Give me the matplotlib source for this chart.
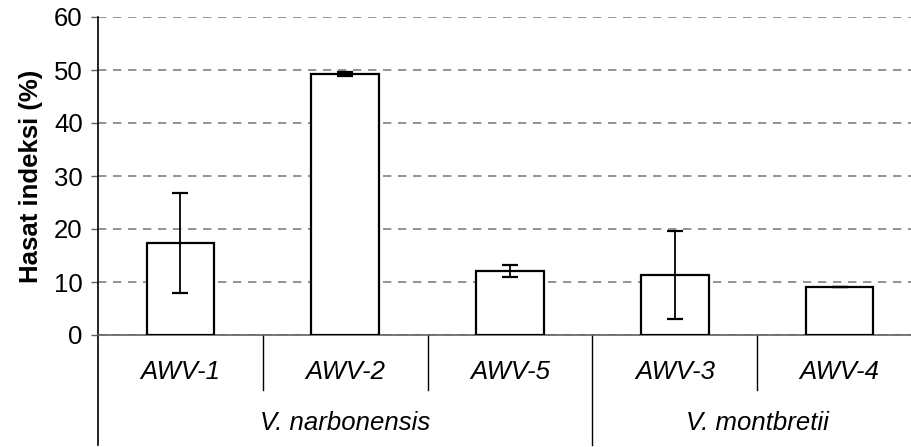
import matplotlib.pyplot as plt
import matplotlib.transforms as mtransforms

# Hasat indeksi verileri
hatlar = ["AWV-1", "AWV-2", "AWV-5", "AWV-3", "AWV-4"]
ortalama = [17.4, 49.2, 12.1, 11.3, 9.1]
hata = [9.4, 0.4, 1.15, 8.3, 0.0]
turler = ["V. narbonensis", "V. montbretii"]
tur_sayisi = [3, 2]

plt.rcParams["font.family"] = ["Liberation Sans", "DejaVu Sans"]

fig = plt.figure(figsize=(9.12, 4.47), dpi=100)
ax = fig.add_axes([98 / 912, 1 - 335 / 447, (922 - 98) / 912, 318 / 447])

x = list(range(len(hatlar)))
ax.bar(x, ortalama, width=0.41, color="white", edgecolor="black", linewidth=1.6, zorder=3)
ax.errorbar(x, ortalama, yerr=hata, fmt="none", ecolor="black", elinewidth=1.3,
            capsize=6, capthick=1.6, zorder=4)

ax.set_xlim(-0.5, 4.5)
ax.set_ylim(0, 60)
ax.set_yticks(range(0, 61, 10))
ax.tick_params(axis="y", labelsize=18.5, length=5, width=1, color="#606060", pad=6)
ax.set_xticks([])
ax.yaxis.grid(True, linestyle=(0, (5, 4)), color="#808080", linewidth=1.2)
ax.set_axisbelow(True)
for s in ["top", "right", "left"]:
    ax.spines[s].set_visible(False)
ax.spines["bottom"].set_color("#606060")
ax.spines["bottom"].set_linewidth(1.2)
ax.set_ylabel("Hasat indeksi (%)", fontsize=18.5, fontweight="bold", labelpad=8)

trans = mtransforms.blended_transform_factory(ax.transData, ax.transAxes)
# sol eksen çizgisi
ax.plot([-0.5, -0.5], [1, -0.346], transform=trans, color="black", lw=1.2, clip_on=False)

# hat etiketleri ve ayırıcılar
for i, h in enumerate(hatlar):
    ax.text(i, -0.116, h, transform=trans, ha="center", va="center",
            fontsize=18.5, style="italic")

sinir = 0
for k, n in enumerate(tur_sayisi):
    for j in range(1, n):
        xs = sinir + j - 0.5
        ax.plot([xs, xs], [0, -0.173], transform=trans, color="black", lw=1, clip_on=False)
    if k > 0:
        xs = sinir - 0.5
        ax.plot([xs, xs], [0, -0.346], transform=trans, color="black", lw=1, clip_on=False)
    ax.text(sinir + (n - 1) / 2, -0.277, turler[k], transform=trans, ha="center",
            va="center", fontsize=18.5, style="italic")
    sinir += n

fig.savefig("out.png", dpi=100)
